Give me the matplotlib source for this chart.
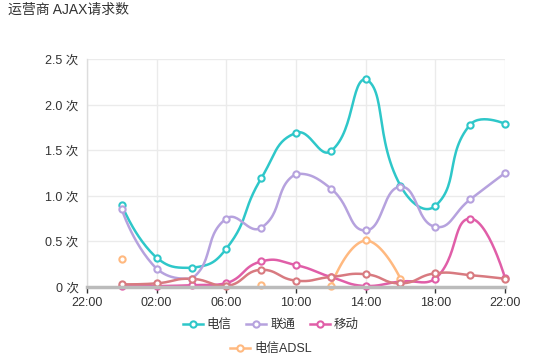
import numpy as np
import matplotlib
matplotlib.use("Agg")
import matplotlib.pyplot as plt
from matplotlib.lines import Line2D

plt.rcParams['font.family'] = ['Liberation Sans', 'Noto Sans CJK SC', 'DejaVu Sans']

# data: hour of day, values in 次
hours = [0, 2, 4, 6, 8, 10, 12, 14, 16, 18, 20, 22]
dianxin = [0.90, 0.32, 0.21, 0.42, 1.19, 1.69, 1.49, 2.28, 1.11, 0.89, 1.78, 1.79]
liantong = [0.85, 0.20, 0.09, 0.75, 0.65, 1.24, 1.08, 0.62, 1.10, 0.66, 0.96, 1.25]
yidong = [0.01, 0.01, 0.02, 0.04, 0.28, 0.24, 0.11, 0.01, 0.06, 0.09, 0.75, 0.10]
adsl = [0.31, np.nan, np.nan, np.nan, 0.02, np.nan, 0.01, 0.51, 0.09, np.nan, np.nan, np.nan]
other = [0.03, 0.04, 0.09, 0.01, 0.19, 0.07, 0.11, 0.14, 0.04, 0.15, 0.13, 0.09]

xticks = [-2, 2, 6, 10, 14, 18, 22]
xtick_labels = ["22:00", "02:00", "06:00", "10:00", "14:00", "18:00", "22:00"]
yticks = [0, 0.5, 1.0, 1.5, 2.0, 2.5]
ytick_labels = ["0 次", "0.5 次", "1.0 次", "1.5 次", "2.0 次", "2.5 次"]

series = [
    ("电信", dianxin, "#2ec7c9"),
    ("联通", liantong, "#b6a2de"),
    ("移动", yidong, "#e05ea8"),
    ("电信ADSL", adsl, "#ffb980"),
    (None, other, "#d87a80"),
]

XS, YS = 17.42, 91.2   # rough pixels per unit, used only for the smoothing ratio


def smooth(x, y, k=0.5, n=30):
    # bezier curve through the points, control points kept inside the bbox
    p = np.column_stack([np.asarray(x, float) * XS, np.asarray(y, float) * YS])
    lo, hi = p.min(axis=0), p.max(axis=0)
    m = len(p)
    cps = []
    for i in range(m):
        if i == 0 or i == m - 1:
            cps.append(p[i].copy())
            continue
        v = (p[i + 1] - p[i - 1]) * k
        d0 = np.hypot(*(p[i] - p[i - 1]))
        d1 = np.hypot(*(p[i + 1] - p[i]))
        s = d0 + d1
        if s:
            d0, d1 = d0 / s, d1 / s
        cps.append(np.clip(p[i] - v * d0, lo, hi))
        cps.append(np.clip(p[i] + v * d1, lo, hi))
    t = np.linspace(0, 1, n)[:, None]
    segs = []
    for i in range(m - 1):
        a, b, c, d = p[i], cps[2 * i], cps[2 * i + 1], p[i + 1]
        segs.append((1 - t)**3 * a + 3 * (1 - t)**2 * t * b + 3 * (1 - t) * t**2 * c + t**3 * d)
    pts = np.vstack(segs)
    return pts[:, 0] / XS, pts[:, 1] / YS


fig = plt.figure(figsize=(5.45, 3.58), dpi=100)
ax = fig.add_axes([87 / 545, 1 - 287 / 358, (505 - 87) / 545, (287 - 59) / 358])

x_arr = np.array(hours, float)
for name, vals, color in series:
    v = np.array(vals, float)
    ok = ~np.isnan(v)
    # split into runs of valid points
    runs, cur = [], []
    for i in range(len(v)):
        if ok[i]:
            cur.append(i)
        elif cur:
            runs.append(cur)
            cur = []
    if cur:
        runs.append(cur)
    for r in runs:
        if len(r) > 1:
            sx, sy = smooth(x_arr[r], v[r])
            ax.plot(sx, sy, color=color, lw=1.8, zorder=3, solid_capstyle='round')
    ax.plot(x_arr[ok], v[ok], linestyle='none', marker='o', ms=4.5, mew=1.5,
            mfc='white', mec=color, zorder=4, clip_on=False)

ax.set_xlim(-2, 22)
ax.set_ylim(0, 2.5)
ax.set_xticks(xticks)
ax.set_xticklabels(xtick_labels)
ax.set_yticks(yticks)
ax.set_yticklabels(ytick_labels)
ax.grid(True, color="#ebebeb", lw=1)
ax.set_axisbelow(True)
ax.tick_params(axis='x', length=4, width=1, color="#333333", labelsize=9,
               labelcolor="#333333", pad=3)
ax.tick_params(axis='y', length=0, labelsize=9, labelcolor="#333333", pad=6)
for s in ("top", "right"):
    ax.spines[s].set_visible(False)
ax.spines["left"].set_color("#dddddd")
ax.spines["left"].set_linewidth(1)
ax.spines["bottom"].set_color("#bbbbbb")
ax.spines["bottom"].set_linewidth(2.5)
ax.spines["bottom"].set_zorder(5)

fig.text(8 / 545, 1 - 10 / 358, "运营商 AJAX请求数", fontsize=10, color="#333333",
         va="center", ha="left")


def handle(color):
    return Line2D([], [], color=color, lw=1.8, marker='o', ms=4.5, mew=1.5,
                  mfc='white', mec=color)


h1 = [handle(c) for n, v, c in series[:3]]
l1 = [n for n, v, c in series[:3]]
leg1 = fig.legend(h1, l1, loc='center', bbox_to_anchor=(0.497, 1 - 325 / 358), ncol=3,
                  frameon=False, fontsize=9, handlelength=1.6, handletextpad=0.3,
                  columnspacing=1.2)
for t in leg1.get_texts():
    t.set_color("#333333")
leg2 = fig.legend([handle(series[3][2])], [series[3][0]], loc='center',
                  bbox_to_anchor=(0.497, 1 - 349 / 358), frameon=False, fontsize=9,
                  handlelength=1.6, handletextpad=0.3)
for t in leg2.get_texts():
    t.set_color("#333333")

fig.savefig("out.png", dpi=100)
